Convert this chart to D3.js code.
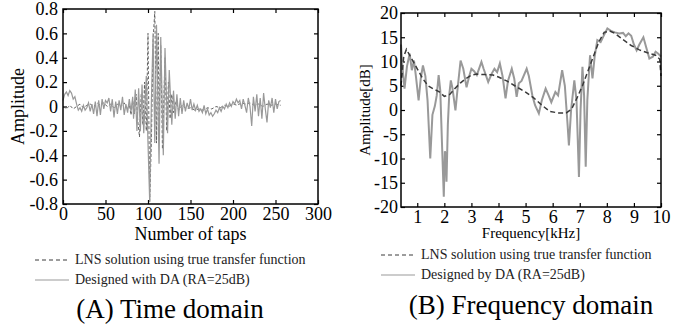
<!DOCTYPE html>
<html>
<head>
<meta charset="utf-8">
<script src="https://cdn.jsdelivr.net/npm/d3@7"></script>
<style>
  html, body { margin: 0; padding: 0; background: #fff; }
  svg, svg text { font-family: "Liberation Serif", "Times New Roman", "DejaVu Serif", serif !important; }
</style>
</head>
<body>
<div id="chart"></div>
<script>
// (A) time domain: tap index -> amplitude
const lnsTaps = [0, 4, 8, 12, 16, 20, 24, 28, 32, 36, 40, 44, 48, 52, 56, 60, 64, 68, 72, 76, 78, 80, 82, 84, 86, 88, 90, 92, 94, 96, 98, 100, 102, 104, 106, 108, 110, 112, 113, 115, 117, 120, 122, 124, 126, 128, 130, 133, 136, 140, 145, 150, 155, 160, 165, 170, 175, 180, 185, 190, 195, 200, 205, 210, 215, 220, 225, 230, 235, 240, 245, 250, 256];
const lnsAmp  = [0.0, -0.02, 0.01, -0.02, 0.0, 0.02, -0.01, 0.01, 0.02, 0.0, 0.03, 0.01, 0.03, 0.0, 0.02, -0.01, 0.02, 0.0, 0.03, -0.02, 0.02, -0.07, 0.05, -0.06, 0.1, -0.12, -0.25, 0.1, -0.15, 0.2, -0.2, 0.6, -0.78, -0.28, 0.55, 0.78, -0.3, 0.6, -0.12, 0.5, -0.35, 0.4, -0.2, 0.2, -0.1, 0.1, -0.05, 0.04, -0.03, 0.01, -0.02, -0.01, -0.03, -0.02, -0.03, -0.01, -0.02, 0.0, -0.01, 0.01, 0.0, 0.02, 0.01, 0.03, 0.02, 0.03, 0.01, 0.02, 0.0, 0.02, 0.01, 0.02, 0.01];

const daTaps = [0, 2, 4, 6, 8, 10, 12, 14, 16, 18, 20, 22, 24, 26, 28, 30, 32, 34, 36, 38, 40, 42, 44, 46, 48, 50, 52, 54, 56, 58, 60, 62, 64, 66, 68, 70, 72, 74, 76, 78, 80, 82, 83, 85, 87, 89, 91, 93, 95, 98, 100, 102, 104, 106, 108, 110, 113, 115, 118, 120, 123, 125, 128, 130, 132, 134, 136, 138, 140, 142, 144, 146, 148, 150, 152, 154, 156, 158, 160, 162, 164, 166, 168, 170, 172, 174, 176, 178, 180, 182, 184, 186, 188, 190, 192, 194, 196, 198, 200, 202, 204, 206, 208, 210, 212, 214, 216, 218, 220, 222, 224, 226, 228, 230, 232, 234, 236, 238, 240, 242, 244, 246, 248, 250, 252, 254, 256];
const daAmp  = [0.05, 0.10, 0.12, 0.09, 0.13, 0.11, 0.06, 0.08, 0.02, -0.03, -0.01, -0.04, 0.01, -0.03, -0.01, 0.03, -0.04, 0.02, -0.06, 0.04, -0.08, 0.05, -0.07, 0.06, -0.02, 0.05, 0.03, 0.07, -0.04, 0.06, -0.09, 0.04, -0.06, 0.05, -0.03, 0.08, -0.07, 0.02, -0.05, 0.06, -0.04, 0.08, -0.1, 0.14, -0.2, 0.15, -0.2, 0.18, -0.22, 0.25, -0.3, -0.78, 0.05, 0.6, -0.3, 0.67, -0.47, 0.57, -0.4, 0.48, -0.22, 0.3, -0.15, 0.13, -0.1, 0.1, -0.08, 0.07, -0.06, 0.05, -0.04, 0.03, -0.02, 0.06, -0.03, 0.02, -0.03, 0.01, -0.04, -0.02, -0.05, 0.01, -0.06, -0.02, -0.07, -0.05, -0.08, -0.06, -0.03, -0.05, -0.01, -0.04, 0.0, -0.02, 0.02, -0.01, 0.03, 0.0, 0.04, 0.02, 0.06, 0.03, 0.05, -0.02, 0.06, 0.01, -0.05, 0.07, 0.0, -0.16, 0.08, -0.04, 0.1, -0.08, 0.07, -0.1, 0.11, -0.02, -0.13, 0.05, -0.01, 0.07, -0.05, 0.06, -0.02, 0.04, 0.05];

const timeXTicks = [0, 50, 100, 150, 200, 250, 300];
const timeYTicks = [-0.8, -0.6, -0.4, -0.2, 0, 0.2, 0.4, 0.6, 0.8];

// (B) frequency domain: kHz -> dB
const lnsFreq = [0.4, 0.5, 0.6, 0.8, 1.0, 1.2, 1.4, 1.6, 1.8, 2.0, 2.2, 2.4, 2.6, 2.8, 3.0, 3.2, 3.5, 3.8, 4.0, 4.3, 4.6, 5.0, 5.3, 5.6, 5.9, 6.2, 6.5, 6.7, 6.9, 7.1, 7.3, 7.5, 7.7, 7.9, 8.1, 8.3, 8.6, 8.9, 9.2, 9.5, 9.8, 9.95, 10.0];
const lnsDb   = [5, 11, 12.5, 10.5, 8.5, 6.5, 5, 4.3, 3.8, 2.8, 3.2, 4.5, 5.6, 6.5, 7.2, 7.4, 7.3, 7.2, 6.8, 6.0, 5.0, 3.7, 2.5, 1.0, -0.3, -0.6, -0.6, 0.2, 2.5, 5.0, 8.0, 11.0, 14, 16, 16.3, 15.8, 14.5, 13.3, 12.4, 11.8, 11.3, 10.5, 7];

const daFreq = [0.4, 0.45, 0.53, 0.62, 0.72, 0.8, 0.88, 0.95, 1.05, 1.13, 1.21, 1.3, 1.38, 1.48, 1.56, 1.65, 1.72, 1.79, 1.85, 1.92, 1.98, 2.02, 2.05, 2.08, 2.13, 2.18, 2.24, 2.3, 2.41, 2.5, 2.6, 2.7, 2.82, 2.92, 3.0, 3.1, 3.2, 3.3, 3.37, 3.45, 3.62, 3.75, 3.85, 3.95, 4.05, 4.15, 4.26, 4.35, 4.49, 4.58, 4.67, 4.75, 4.85, 5.04, 5.12, 5.25, 5.35, 5.49, 5.6, 5.74, 5.85, 5.95, 6.1, 6.2, 6.35, 6.45, 6.55, 6.6, 6.68, 6.8, 6.88, 6.97, 7.03, 7.1, 7.16, 7.22, 7.28, 7.38, 7.47, 7.55, 7.65, 7.77, 7.9, 8.02, 8.15, 8.3, 8.45, 8.6, 8.7, 8.8, 8.9, 9.0, 9.1, 9.2, 9.35, 9.45, 9.57, 9.7, 9.8, 9.9, 10.0];
const daDb   = [13.5, 9, 4.4, 9, 11.6, 8.2, 10.2, 7, 2.0, 6.5, 9.2, 7, 2, -10, -1, 0.8, 3, 7.2, 4, -8, -17.9, -8.5, -9, -14.8, -3, 3, 6.1, 4.5, -0.1, 5, 10.2, 8.5, 4.7, 7, 8.5, 8, 7.2, 8.8, 9.9, 8.5, 5.8, 7.5, 8.5, 7.8, 9.6, 7, 2.4, 6, 8.5, 6.5, 2.7, 5.5, 6, 8.5, 7, 3, 1, -0.7, 2, 4.4, 3, 1.6, 3.7, 3, 8.2, 5, -3, -7.3, 0, 6.1, 2, -13.8, 0, 8.9, 3, -11.7, 2, 11.3, 6.5, 11, 14.4, 14, 15.5, 16.8, 16.3, 16, 15.8, 15.9, 15.2, 15.8, 15.3, 13.5, 12.3, 13.5, 15.0, 13, 10.6, 11, 12, 11.6, 11];

const freqXTicks = [1, 2, 3, 4, 5, 6, 7, 8, 9, 10];
const freqYTicks = [-20, -15, -10, -5, 0, 5, 10, 15, 20];

const W = 689, H = 327;
const serif = '"Liberation Serif", "Times New Roman", serif';
const svg = d3.select('#chart').append('svg')
  .attr('width', W)
  .attr('height', H);

const hyphen = s => s.replace('\u2212', '-');

function drawPanel(p) {
  const x = d3.scaleLinear().domain(p.xDomain).range([p.left, p.right]);
  const y = d3.scaleLinear().domain(p.yDomain).range([p.bottom, p.top]);
  const g = svg.append('g');
  const tick = 4;

  // inward ticks on all four sides, labels only bottom/left
  const bottom = g.append('g')
    .attr('transform', `translate(0,${p.bottom})`)
    .call(d3.axisBottom(x).tickValues(p.xTicks).tickSize(-tick).tickPadding(3)
      .tickFormat(d => hyphen(p.xFormat(d))));
  const left = g.append('g')
    .attr('transform', `translate(${p.left},0)`)
    .call(d3.axisLeft(y).tickValues(p.yTicks).tickSize(-tick).tickPadding(p.yPad)
      .tickFormat(d => hyphen(p.yFormat(d))));
  g.append('g')
    .attr('transform', `translate(0,${p.top})`)
    .call(d3.axisTop(x).tickValues(p.xTicks).tickSize(-tick).tickFormat(''));
  g.append('g')
    .attr('transform', `translate(${p.right},0)`)
    .call(d3.axisRight(y).tickValues(p.yTicks).tickSize(-tick).tickFormat(''));

  g.selectAll('.domain').remove();
  g.selectAll('.tick line').attr('stroke', '#000').attr('stroke-width', 1.2);
  [bottom, left].forEach(a => a.attr('font-family', serif).selectAll('text')
    .style('font-family', serif)
    .style('font-size', p.tickFont + 'px')
    .attr('fill', '#000'));

  // curves
  const line = d3.line().x(d => x(d[0])).y(d => y(d[1]));
  const drawDA = () => g.append('path')
    .datum(d3.zip(p.daX, p.daY))
    .attr('fill', 'none')
    .attr('stroke', '#999')
    .attr('stroke-width', p.daWidth)
    .attr('d', line);
  const drawLNS = () => g.append('path')
    .datum(d3.zip(p.lnsX, p.lnsY))
    .attr('fill', 'none')
    .attr('stroke', p.lnsColor)
    .attr('stroke-width', p.lnsWidth)
    .attr('stroke-dasharray', p.dash)
    .attr('d', line);
  if (p.lnsOnTop) { drawDA(); drawLNS(); } else { drawLNS(); drawDA(); }

  // frame
  g.append('rect')
    .attr('x', p.left).attr('y', p.top)
    .attr('width', p.right - p.left).attr('height', p.bottom - p.top)
    .attr('fill', 'none').attr('stroke', '#000').attr('stroke-width', 1.5);

  // axis titles
  g.append('text')
    .attr('x', (p.left + p.right) / 2)
    .attr('y', p.xTitleY)
    .attr('text-anchor', 'middle')
    .style('font-family', serif)
    .style('font-size', p.xTitleFont + 'px')
    .text(p.xTitle);
  g.append('text')
    .attr('transform', `translate(${p.yTitleX},${(p.top + p.bottom) / 2}) rotate(-90)`)
    .attr('text-anchor', 'middle')
    .style('font-family', serif)
    .style('font-size', p.yTitleFont + 'px')
    .text(p.yTitle);

  // legend
  const lg = g.append('g');
  lg.append('line')
    .attr('x1', p.legX).attr('x2', p.legX + 34)
    .attr('y1', p.legY - 4).attr('y2', p.legY - 4)
    .attr('stroke', '#3a3a3a').attr('stroke-width', 1).attr('stroke-dasharray', '4,3');
  lg.append('text')
    .attr('x', p.legX + 40).attr('y', p.legY)
    .style('font-family', serif)
    .style('font-size', '14px').attr('fill', '#222')
    .text(p.lnsLabel);
  lg.append('line')
    .attr('x1', p.legX).attr('x2', p.legX + 34)
    .attr('y1', p.legY + p.legGap - 4).attr('y2', p.legY + p.legGap - 4)
    .attr('stroke', '#999').attr('stroke-width', 1.2);
  lg.append('text')
    .attr('x', p.legX + 40).attr('y', p.legY + p.legGap)
    .style('font-family', serif)
    .style('font-size', '14px').attr('fill', '#222')
    .text(p.daLabel);

  // caption
  g.append('text')
    .attr('x', p.capX).attr('y', p.capY)
    .attr('text-anchor', 'middle')
    .style('font-family', serif)
    .style('font-size', '27px')
    .text(p.caption);
}

drawPanel({
  left: 63, right: 318, top: 9, bottom: 204,
  xDomain: [0, 300], yDomain: [-0.8, 0.8],
  xTicks: timeXTicks, yTicks: timeYTicks,
  xFormat: d3.format('d'), yFormat: d => d === 0 ? '0' : d3.format('.1f')(d),
  tickFont: 18, yPad: 5,
  daX: daTaps, daY: daAmp, lnsX: lnsTaps, lnsY: lnsAmp,
  daWidth: 1.2, lnsWidth: 0.9, lnsColor: '#555', dash: '3,2', lnsOnTop: false,
  xTitle: 'Number of taps', xTitleY: 240, xTitleFont: 18,
  yTitle: 'Amplitude', yTitleX: 24, yTitleFont: 18,
  legX: 35, legY: 264, legGap: 20,
  lnsLabel: 'LNS solution using true transfer function',
  daLabel: 'Designed with DA (RA=25dB)',
  caption: '(A) Time domain', capX: 170, capY: 318
});

drawPanel({
  left: 401, right: 661, top: 13, bottom: 207,
  xDomain: [0.4, 10], yDomain: [-20, 20],
  xTicks: freqXTicks, yTicks: freqYTicks,
  xFormat: d3.format('d'), yFormat: d3.format('d'),
  tickFont: 18, yPad: 3,
  daX: daFreq, daY: daDb, lnsX: lnsFreq, lnsY: lnsDb,
  daWidth: 2, lnsWidth: 1.5, lnsColor: '#3a3a3a', dash: '5,3', lnsOnTop: true,
  xTitle: 'Frequency[kHz]', xTitleY: 238, xTitleFont: 15,
  yTitle: 'Amplitude[dB]', yTitleX: 370, yTitleFont: 15,
  legX: 381, legY: 259, legGap: 20,
  lnsLabel: 'LNS solution using true transfer function',
  daLabel: 'Designed by DA (RA=25dB)',
  caption: '(B) Frequency domain', capX: 531, capY: 314
});
</script>
</body>
</html>
